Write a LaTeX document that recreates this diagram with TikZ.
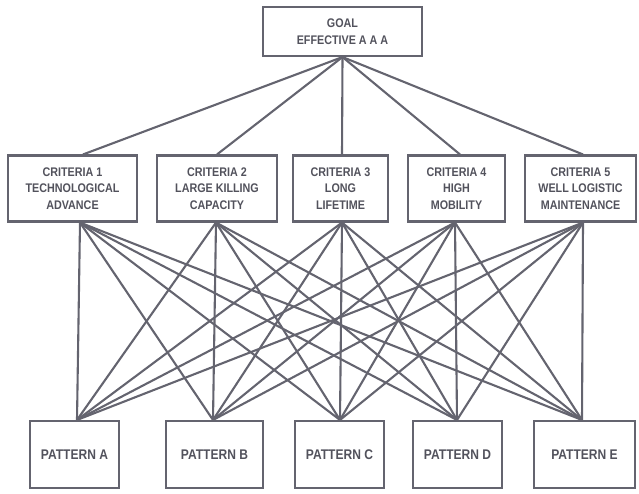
\documentclass[tikz,border=0pt]{standalone}
\usepackage{fontspec}
\setmainfont{Liberation Sans}[FakeStretch=0.86]
\definecolor{ahpLine}{HTML}{64646F}
\definecolor{ahpText}{HTML}{52525C}
\usetikzlibrary{positioning}

\begin{document}
\begin{tikzpicture}[x=1pt, y=-1pt,
  box/.style={draw=ahpLine, line width=2.1pt, text=ahpText, align=center,
    inner sep=0pt, font=\fontsize{12.5}{16.5}\selectfont\bfseries},
  crit/.style={box, minimum height=66pt},
  pat/.style={box, minimum height=67pt,
    font=\fontsize{14}{16}\selectfont\bfseries},
  link/.style={draw=ahpLine, line width=2.1pt}
]
  \useasboundingbox (0,0) rectangle (639,493);
  % Goal on top
  \node[box, minimum width=159pt, minimum height=49pt] (goal) at (342.5,31.5)
    {GOAL\\EFFECTIVE A A A};
  % Criteria row
  \node[crit, minimum width=129pt] (c1) at (72.5,188.5) {CRITERIA 1\\TECHNOLOGICAL\\ADVANCE};
  \node[crit, minimum width=120pt] (c2) at (217,188.5) {CRITERIA 2\\LARGE KILLING\\CAPACITY};
  \node[crit, minimum width=95pt]  (c3) at (340.5,188.5) {CRITERIA 3\\LONG\\LIFETIME};
  \node[crit, minimum width=97pt]  (c4) at (456.5,188.5) {CRITERIA 4\\HIGH\\MOBILITY};
  \node[crit, minimum width=111pt] (c5) at (580.5,188.5) {CRITERIA 5\\WELL LOGISTIC\\MAINTENANCE};
  % Pattern row
  \node[pat, minimum width=89pt]  (pA) at (74.5,454.5) {PATTERN A};
  \node[pat, minimum width=97pt]  (pB) at (214.5,454.5) {PATTERN B};
  \node[pat, minimum width=89pt]  (pC) at (339.5,454.5) {PATTERN C};
  \node[pat, minimum width=89pt]  (pD) at (457.5,454.5) {PATTERN D};
  \node[pat, minimum width=101pt] (pE) at (584.5,454.5) {PATTERN E};
  % Goal to criteria
  \foreach \i/\dx in {1/10.5, 2/0, 3/1.5, 4/3.5, 5/2.5}
    \draw[link] (goal.south) -- ([xshift=\dx pt]c\i.north);
  % Every criterion to every pattern
  \foreach \i/\a in {1/7.5, 2/-1, 3/1.5, 4/-1.5, 5/2.5}
    \foreach \p/\b in {A/2.5, B/-1.5, C/0.5, D/-0.5, E/-2.5}
      \draw[link] ([xshift=\a pt]c\i.south) -- ([xshift=\b pt]p\p.north);
\end{tikzpicture}
\end{document}
